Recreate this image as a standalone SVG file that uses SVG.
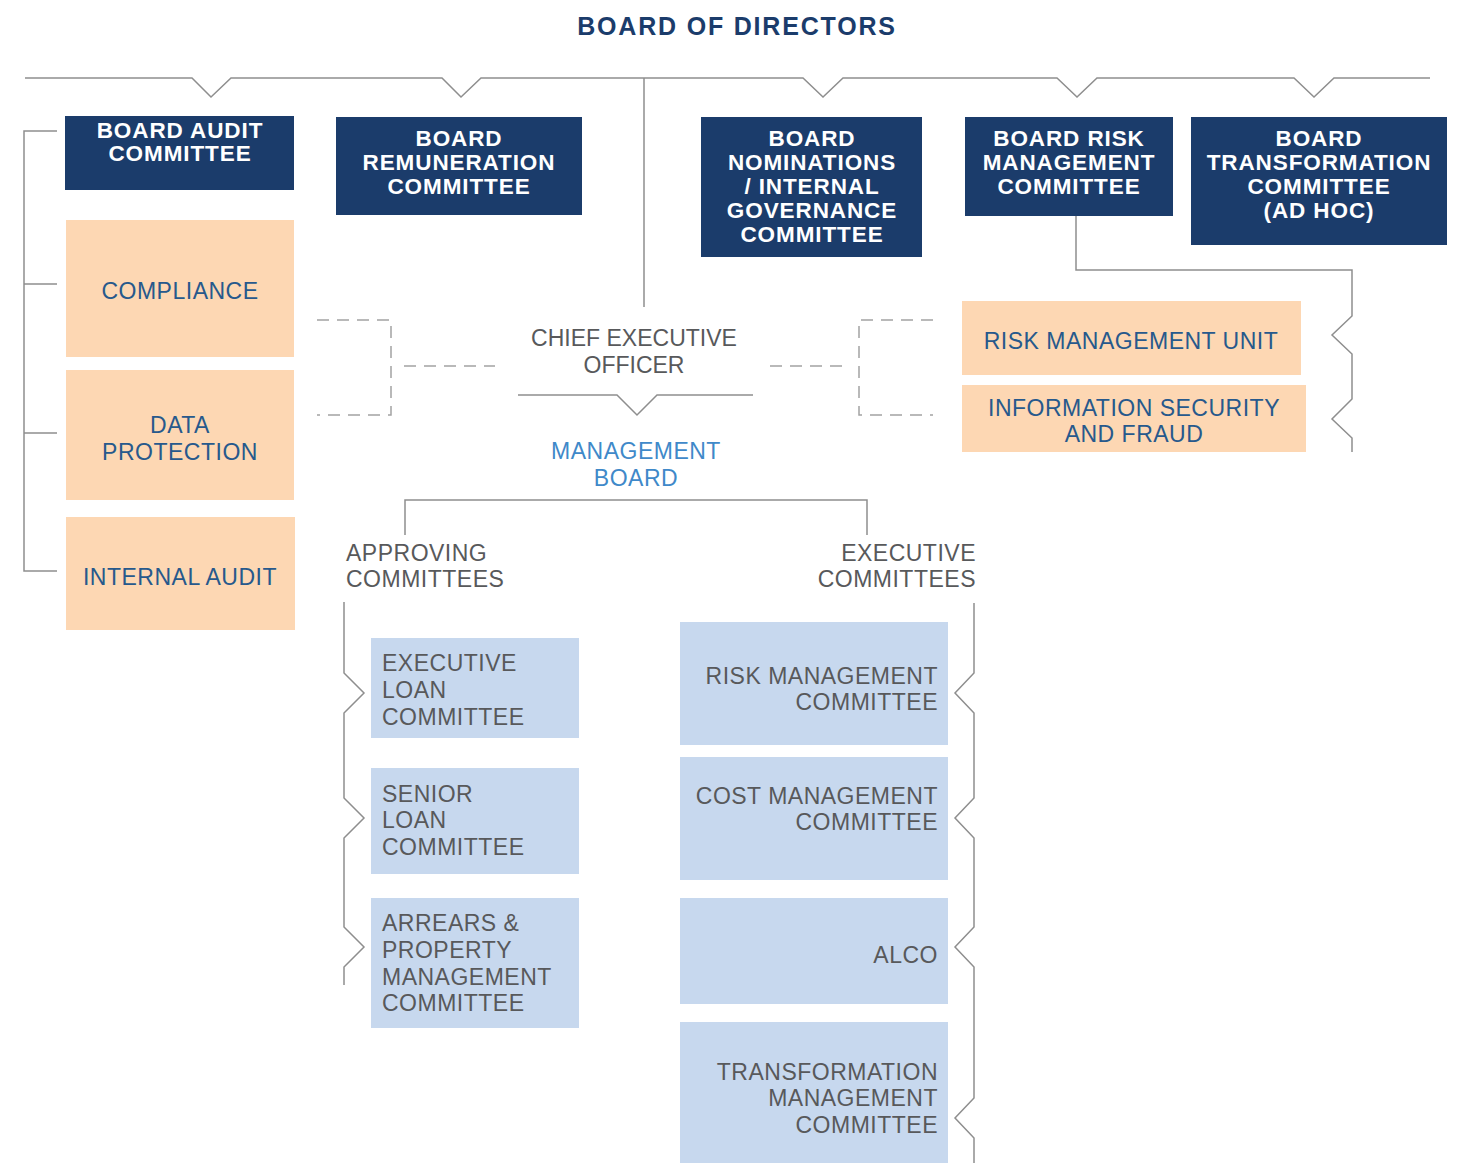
<svg xmlns="http://www.w3.org/2000/svg" width="1461" height="1163" viewBox="0 0 1461 1163">
  <style>
    text { font-family: "Liberation Sans", Arial, sans-serif; }
    .title { font-size: 25px; font-weight: bold; fill: #1b3c6b; letter-spacing: 1.8px; text-anchor: middle; }
    .board rect { fill: #1b3c6b; }
    .board text { font-size: 22.5px; font-weight: bold; fill: #ffffff; letter-spacing: 0.9px; text-anchor: middle; }
    .unit rect { fill: #fdd7b3; }
    .unit text { font-size: 23px; fill: #27598c; letter-spacing: 0.5px; text-anchor: middle; }
    .comm rect { fill: #c7d8ee; }
    .comm text { font-size: 23px; fill: #58595b; letter-spacing: 0.5px; }
    .label { font-size: 23px; fill: #58595b; letter-spacing: 0.5px; }
    .mgmt { font-size: 23px; fill: #3f89c9; letter-spacing: 0.5px; text-anchor: middle; }
    .line { fill: none; stroke: #8e8e8e; stroke-width: 1.5; }
    .dash { fill: none; stroke: #a3a3a3; stroke-width: 1.5; stroke-dasharray: 12 8; }
  </style>

  <rect width="1461" height="1163" fill="#ffffff"/>

  <text class="title" x="737" y="35">BOARD OF DIRECTORS</text>

  <!-- connectors -->
  <g id="connectors">
    <path class="line" d="M25,78 H192 L211,97 L231,78 H442 L461,97 L481,78 H803 L823,97 L843,78 H1057 L1077,97 L1097,78 H1294 L1314,97 L1334,78 H1430"/>
    <path class="line" d="M644,78 V307"/>
    <path class="line" d="M57,131 H24 V571 H57 M24,284 H57 M24,433 H57"/>
    <path class="dash" d="M317,320 H391 V415 H317"/>
    <path class="dash" d="M404,366 H495"/>
    <path class="dash" d="M933,320 H859 V415 H933"/>
    <path class="dash" d="M770,366 H843"/>
    <path class="line" d="M518,395 H617 L637,415 L657,395 H753"/>
    <path class="line" d="M405,535 V500 H867 V535"/>
    <path class="line" d="M1076,216 V270 H1352 V316 L1332,335 L1352,354 V399 L1332,419 L1352,438 V452"/>
    <path class="line" d="M344,602 V673 L364,693 L344,713 V798 L364,818 L344,838 V927 L364,947 L344,967 V985"/>
    <path class="line" d="M974,603 V673 L955,693 L974,713 V798 L955,818 L974,838 V927 L955,947 L974,967 V1098 L955,1118 L974,1138 V1163"/>
  </g>

  <!-- board committees -->
  <g id="board-audit" class="board">
    <rect x="65" y="116" width="229" height="74"/>
    <text x="180" y="138">BOARD AUDIT</text>
    <text x="180" y="161">COMMITTEE</text>
  </g>
  <g id="board-remuneration" class="board">
    <rect x="336" y="117" width="246" height="98"/>
    <text x="459" y="146">BOARD</text>
    <text x="459" y="170">REMUNERATION</text>
    <text x="459" y="194">COMMITTEE</text>
  </g>
  <g id="board-nominations" class="board">
    <rect x="701" y="117" width="221" height="140"/>
    <text x="812" y="146">BOARD</text>
    <text x="812" y="170">NOMINATIONS</text>
    <text x="812" y="194">/ INTERNAL</text>
    <text x="812" y="218">GOVERNANCE</text>
    <text x="812" y="242">COMMITTEE</text>
  </g>
  <g id="board-risk" class="board">
    <rect x="965" y="117" width="208" height="99"/>
    <text x="1069" y="146">BOARD RISK</text>
    <text x="1069" y="170">MANAGEMENT</text>
    <text x="1069" y="194">COMMITTEE</text>
  </g>
  <g id="board-transformation" class="board">
    <rect x="1191" y="117" width="256" height="128"/>
    <text x="1319" y="146">BOARD</text>
    <text x="1319" y="170">TRANSFORMATION</text>
    <text x="1319" y="194">COMMITTEE</text>
    <text x="1319" y="218">(AD HOC)</text>
  </g>

  <!-- control units -->
  <g id="compliance" class="unit">
    <rect x="66" y="220" width="228" height="137"/>
    <text x="180" y="299">COMPLIANCE</text>
  </g>
  <g id="data-protection" class="unit">
    <rect x="66" y="370" width="228" height="130"/>
    <text x="180" y="433">DATA</text>
    <text x="180" y="460">PROTECTION</text>
  </g>
  <g id="internal-audit" class="unit">
    <rect x="66" y="517" width="229" height="113"/>
    <text x="180" y="585">INTERNAL AUDIT</text>
  </g>
  <g id="risk-management-unit" class="unit">
    <rect x="962" y="301" width="339" height="74"/>
    <text x="1131" y="349">RISK MANAGEMENT UNIT</text>
  </g>
  <g id="information-security" class="unit">
    <rect x="962" y="385" width="344" height="67"/>
    <text x="1134" y="416">INFORMATION SECURITY</text>
    <text x="1134" y="442">AND FRAUD</text>
  </g>

  <!-- executive -->
  <g id="ceo">
    <text class="label" x="634" y="346" text-anchor="middle" style="letter-spacing:0">CHIEF EXECUTIVE</text>
    <text class="label" x="634" y="373" text-anchor="middle" style="letter-spacing:0">OFFICER</text>
  </g>
  <g id="management-board">
    <text class="mgmt" x="636" y="459">MANAGEMENT</text>
    <text class="mgmt" x="636" y="486">BOARD</text>
  </g>
  <g id="approving-committees">
    <text class="label" x="346" y="561">APPROVING</text>
    <text class="label" x="346" y="587">COMMITTEES</text>
  </g>
  <g id="executive-committees">
    <text class="label" x="976" y="561" text-anchor="end">EXECUTIVE</text>
    <text class="label" x="976" y="587" text-anchor="end">COMMITTEES</text>
  </g>

  <!-- approving committees -->
  <g id="executive-loan" class="comm">
    <rect x="371" y="638" width="208" height="100"/>
    <text x="382" y="671">EXECUTIVE</text>
    <text x="382" y="698">LOAN</text>
    <text x="382" y="725">COMMITTEE</text>
  </g>
  <g id="senior-loan" class="comm">
    <rect x="371" y="768" width="208" height="106"/>
    <text x="382" y="802">SENIOR</text>
    <text x="382" y="828">LOAN</text>
    <text x="382" y="855">COMMITTEE</text>
  </g>
  <g id="arrears-property" class="comm">
    <rect x="371" y="898" width="208" height="130"/>
    <text x="382" y="931">ARREARS &amp;</text>
    <text x="382" y="958">PROPERTY</text>
    <text x="382" y="985">MANAGEMENT</text>
    <text x="382" y="1011">COMMITTEE</text>
  </g>

  <!-- executive committees -->
  <g id="risk-management-committee" class="comm">
    <rect x="680" y="622" width="268" height="123"/>
    <text x="938" y="684" text-anchor="end">RISK MANAGEMENT</text>
    <text x="938" y="710" text-anchor="end">COMMITTEE</text>
  </g>
  <g id="cost-management-committee" class="comm">
    <rect x="680" y="757" width="268" height="123"/>
    <text x="938" y="804" text-anchor="end">COST MANAGEMENT</text>
    <text x="938" y="830" text-anchor="end">COMMITTEE</text>
  </g>
  <g id="alco" class="comm">
    <rect x="680" y="898" width="268" height="106"/>
    <text x="938" y="963" text-anchor="end">ALCO</text>
  </g>
  <g id="transformation-management-committee" class="comm">
    <rect x="680" y="1022" width="268" height="141"/>
    <text x="938" y="1080" text-anchor="end">TRANSFORMATION</text>
    <text x="938" y="1106" text-anchor="end">MANAGEMENT</text>
    <text x="938" y="1133" text-anchor="end">COMMITTEE</text>
  </g>
</svg>
